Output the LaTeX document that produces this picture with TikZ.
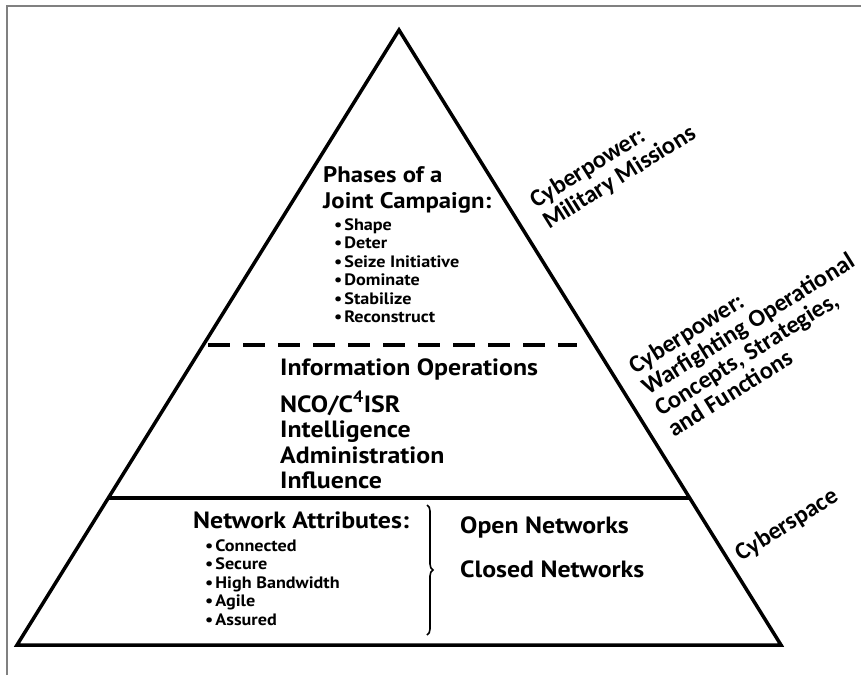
\documentclass[tikz,border=0pt]{standalone}
\usepackage{fontspec}
\setmainfont{PT Sans}
\newfontfamily\trifont[FakeStretch=1.10]{PT Sans}
\newfontfamily\labelfont{Carlito}
\usetikzlibrary{decorations.pathreplacing}
\tikzset{
  txt/.style={inner sep=0pt, anchor=base west},
  title/.style={txt, font=\trifont\bfseries\fontsize{22.5}{26}\selectfont},
  big/.style={txt, font=\trifont\bfseries\fontsize{23.5}{28}\selectfont},
  item/.style={txt, font=\trifont\bfseries\fontsize{16.5}{20}\selectfont},
  side/.style={txt, rotate=32, font=\labelfont\bfseries\fontsize{24.5}{25}\selectfont},
  heavy/.style={line width=3.5pt},
}
\newcommand{\bul}[1]{\textbullet\hspace{2pt}#1}
\begin{document}
\begin{tikzpicture}[x=1pt,y=-1pt]
\useasboundingbox (0,0) rectangle (861,675);
\fill[white] (0,0) rectangle (861,675);
\draw[gray, line width=1.5pt] (7,675) -- (7,6) -- (861,6);

\coordinate (apex) at (399,30);
\coordinate (bl) at (17,645);
\coordinate (br) at (781,645);
\draw[heavy, line join=miter] (apex) -- (bl) -- (br) -- cycle;

\coordinate (dl) at (208,345);
\coordinate (dr) at (577,345);
\draw[heavy, dash pattern=on 22pt off 13pt] (dl) -- (dr);

\coordinate (sl) at (108.3,498);
\coordinate (sr) at (689.7,498);
\draw[heavy] (sl) -- (sr);

% top tier
\node[title] (ph1) at (323,182) {Phases of a};
\node[title] (ph2) at (323,208) {Joint Campaign:};
\node[item] (p1) at (334,230) {\bul{Shape}};
\node[item] (p2) at (334,248.5) {\bul{Deter}};
\node[item] (p3) at (334,267) {\bul{Seize Initiative}};
\node[item] (p4) at (334,285.5) {\bul{Dominate}};
\node[item] (p5) at (334,304) {\bul{Stabilize}};
\node[item] (p6) at (334,322.5) {\bul{Reconstruct}};

% middle tier
\node[big] (io) at (280,375) {Information Operations};
\node[big] (nco) at (280,412) {NCO/C\textsuperscript{4}ISR};
\node[big] (int) at (280,437.5) {Intelligence};
\node[big] (adm) at (280,463) {Administration};
\node[big] (inf) at (280,488) {Influence};

% bottom tier
\node[big] (na) at (193,528) {Network Attributes:};
\node[item] (n1) at (205,551) {\bul{Connected}};
\node[item] (n2) at (205,569.5) {\bul{Secure}};
\node[item] (n3) at (205,588) {\bul{High Bandwidth}};
\node[item] (n4) at (205,606.5) {\bul{Agile}};
\node[item] (n5) at (205,625) {\bul{Assured}};
\coordinate (bt) at (427,505);
\coordinate (bb) at (427,635);
\draw[line width=1.6pt, decorate, decoration={brace, amplitude=6pt}] (bt) -- (bb);
\node[big] (on) at (460,533) {Open Networks};
\node[big] (cn) at (460,577) {Closed Networks};

% side labels
\node[side] (m1) at (536,209) {Cyberpower:};
\node[side] (m2) at (549,230) {Military Missions};
\node[side] (w1) at (635,375) {Cyberpower:};
\node[side] (w2) at (648,396) {Warfighting Operational};
\node[side] (w3) at (661,417) {Concepts, Strategies,};
\node[side] (w4) at (674,438) {and Functions};
\node[side] (cs) at (741,562) {Cyberspace};
\end{tikzpicture}
\end{document}
